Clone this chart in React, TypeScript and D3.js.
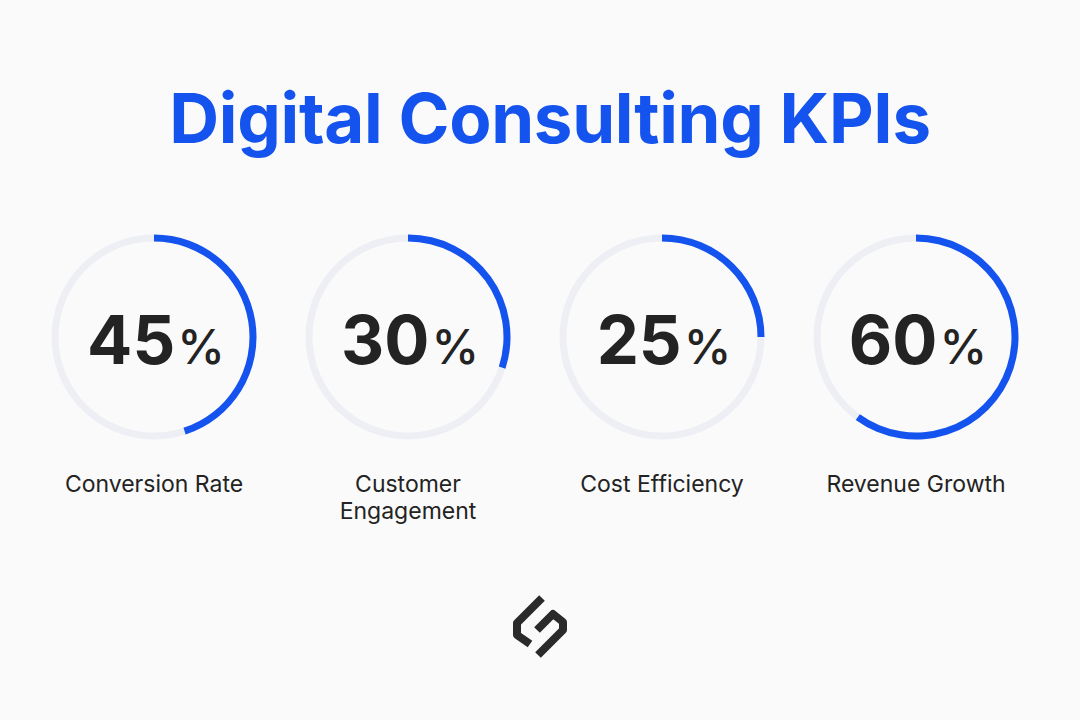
import React, { useRef, useEffect } from "react";
import * as d3 from "d3";

// KPI values (percent) and their labels
const kpiNames = ["Conversion Rate", "Customer Engagement", "Cost Efficiency", "Revenue Growth"];
const kpiValues = [45, 30, 25, 60];
// label lines as they are wrapped under each ring
const kpiLabelLines = [["Conversion Rate"], ["Customer", "Engagement"], ["Cost Efficiency"], ["Revenue Growth"]];

const chartTitle = "Digital Consulting KPIs";

const KpiRings = () => {
  const chartRef = useRef(null);

  useEffect(() => {
    const width = 1080;
    const height = 720;
    const blue = "#1553ee";
    const ink = "#232323";

    d3.select(chartRef.current).selectAll("*").remove();

    const svg = d3
      .select(chartRef.current)
      .append("svg")
      .attr("width", width)
      .attr("height", height)
      .style("position", "fixed")
      .style("left", 0)
      .style("top", 0)
      .style("font-family", "Inter, 'Noto Sans', sans-serif");

    svg.append("rect").attr("width", width).attr("height", height).attr("fill", "#fafafa");

    // Title
    svg
      .append("text")
      .attr("x", 550)
      .attr("y", 143)
      .attr("text-anchor", "middle")
      .style("font-size", "69px")
      .style("font-weight", 700)
      .style("letter-spacing", "-0.3px")
      .style("fill", blue)
      .text(chartTitle);

    // Ring positions along x
    const x = d3.scalePoint().domain(kpiNames).range([154, 916]);
    const cy = 337;
    const radius = 99;
    const thickness = 7;

    const angle = d3.scaleLinear().domain([0, 100]).range([0, 2 * Math.PI]);

    const arc = d3
      .arc()
      .innerRadius(radius - thickness / 2)
      .outerRadius(radius + thickness / 2)
      .startAngle(0);

    const groups = svg
      .selectAll("g.kpi")
      .data(kpiNames.map((name, i) => ({ name, value: kpiValues[i], lines: kpiLabelLines[i] })))
      .enter()
      .append("g")
      .attr("class", "kpi")
      .attr("transform", (d) => `translate(${x(d.name)},${cy})`);

    // Background track
    groups
      .append("path")
      .attr("d", arc({ endAngle: 2 * Math.PI }))
      .style("fill", "#edeff4");

    // Value arc
    groups
      .append("path")
      .attr("d", (d) => arc({ endAngle: angle(d.value) }))
      .style("fill", blue);

    // Value in the middle
    const val = groups
      .append("text")
      .attr("x", 2)
      .attr("y", 27)
      .attr("text-anchor", "middle")
      .style("fill", ink);
    val
      .append("tspan")
      .style("font-size", "67px")
      .style("font-weight", 700)
      .text((d) => d.value);
    val
      .append("tspan")
      .attr("dx", 2)
      .style("font-size", "48px")
      .style("font-weight", 500)
      .text("%");

    // Labels below
    groups
      .append("text")
      .attr("text-anchor", "middle")
      .style("font-size", "23px")
      .style("fill", ink)
      .selectAll("tspan")
      .data((d) => d.lines)
      .enter()
      .append("tspan")
      .attr("x", 0)
      .attr("y", (d, i) => 155 + i * 27)
      .text((d) => d);

    // Logo mark
    const logo = svg.append("g").attr("transform", "translate(540,627)");
    const piece = d3.line();
    logo
      .append("path")
      .attr("d", piece([[2, -29], [-23, -4], [-23, 8], [-10, 17]]))
      .style("fill", "none")
      .style("stroke", "#2a2a2a")
      .style("stroke-width", 8)
      .style("stroke-linejoin", "round");
    logo
      .append("path")
      .attr("d", piece([[-3, 3], [13, -13], [23, -5], [23, 3], [-2, 28]]))
      .style("fill", "none")
      .style("stroke", "#2a2a2a")
      .style("stroke-width", 8)
      .style("stroke-linejoin", "round");
  }, []);

  return <div ref={chartRef} style={{ position: "relative", width: 1080, height: 720 }} />;
};

export default function App() {
  return <KpiRings />;
}
